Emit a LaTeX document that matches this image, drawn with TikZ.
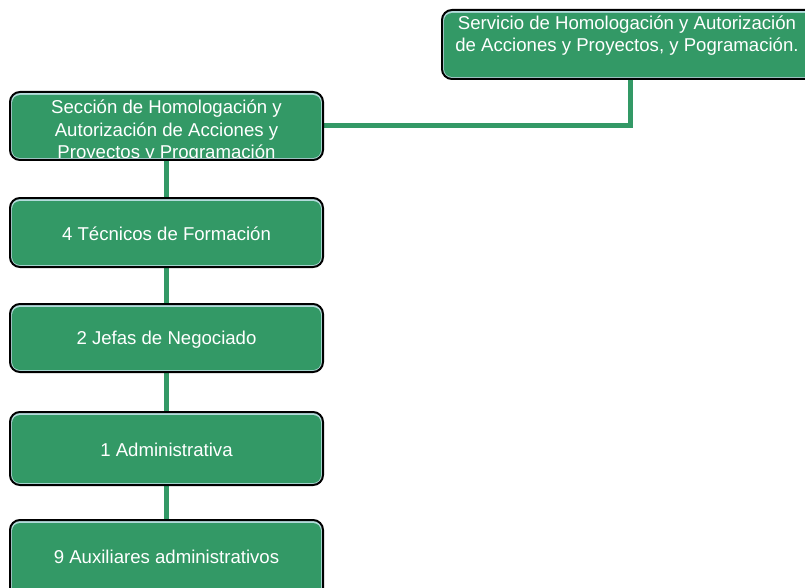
\documentclass[tikz,border=0pt]{standalone}
\usepackage{fontspec}
\setmainfont{Liberation Sans}
\usetikzlibrary{backgrounds}
\definecolor{boxgreen}{HTML}{339966}
\definecolor{boxedge}{HTML}{B4DCDC}
\tikzset{
  conn/.style={draw=boxgreen, line width=5pt},
  boxshape/.style={rectangle, rounded corners=10pt, draw=black, line width=2pt, fill=boxedge, inner sep=0pt},
  boxtext/.style={text=white, font=\fontsize{18.6}{22.5}\selectfont, align=center, inner sep=0pt}
}
\newcommand{\orgbox}[6]{% name, x1, y1, x2, y2, text
  \node[boxshape, minimum width={(#4-#2)*1pt}, minimum height={(#5-#3)*1pt}] (#1) at ({(#2+#4)/2},{(#3+#5)/2}) {};
  \fill[boxgreen, rounded corners=8pt] ([shift={(3pt,-4pt)}]#1.north west) rectangle ([shift={(-3pt,3pt)}]#1.south east);
}
\begin{document}
\begin{tikzpicture}[x=1pt,y=-1pt]
\useasboundingbox (0,0) rectangle (805,588);
\begin{scope}
\clip (0,0) rectangle (805,588);
\orgbox{serv}{442}{10}{818}{79}{}
\node[boxtext] (servt) at (627,35.5) {Servicio de Homologación y Autorización\\de Acciones y Proyectos, y Pogramación.};
\orgbox{secc}{10}{92}{323}{160}{}
\begin{scope}
\clip ([shift={(3pt,-4pt)}]secc.north west) rectangle ([shift={(-3pt,3pt)}]secc.south east);
\node[boxtext] (secct) at (166.5,131.5) {Sección de Homologación y\\Autorización de Acciones y\\Proyectos y Programación};
\end{scope}
\orgbox{tec}{10}{198}{323}{267}{}
\node[boxtext] (tect) at (166.5,234) {4 Técnicos de Formación};
\orgbox{jef}{10}{304}{323}{372}{}
\node[boxtext] (jeft) at (166.5,340) {2 Jefas de Negociado};
\orgbox{adm}{10}{412}{323}{485}{}
\node[boxtext] (admt) at (166.5,450) {1 Administrativa};
\orgbox{aux}{10}{520}{323}{598}{}
\node[boxtext] (auxt) at (166.5,557) {9 Auxiliares administrativos};
\end{scope}
\begin{scope}[on background layer]
\draw[conn] (secc.east) -| (serv.south);
\draw[conn] (secc.south) -- (tec.north);
\draw[conn] (tec.south) -- (jef.north);
\draw[conn] (jef.south) -- (adm.north);
\draw[conn] (adm.south) -- (aux.north);
\end{scope}
\end{tikzpicture}
\end{document}
